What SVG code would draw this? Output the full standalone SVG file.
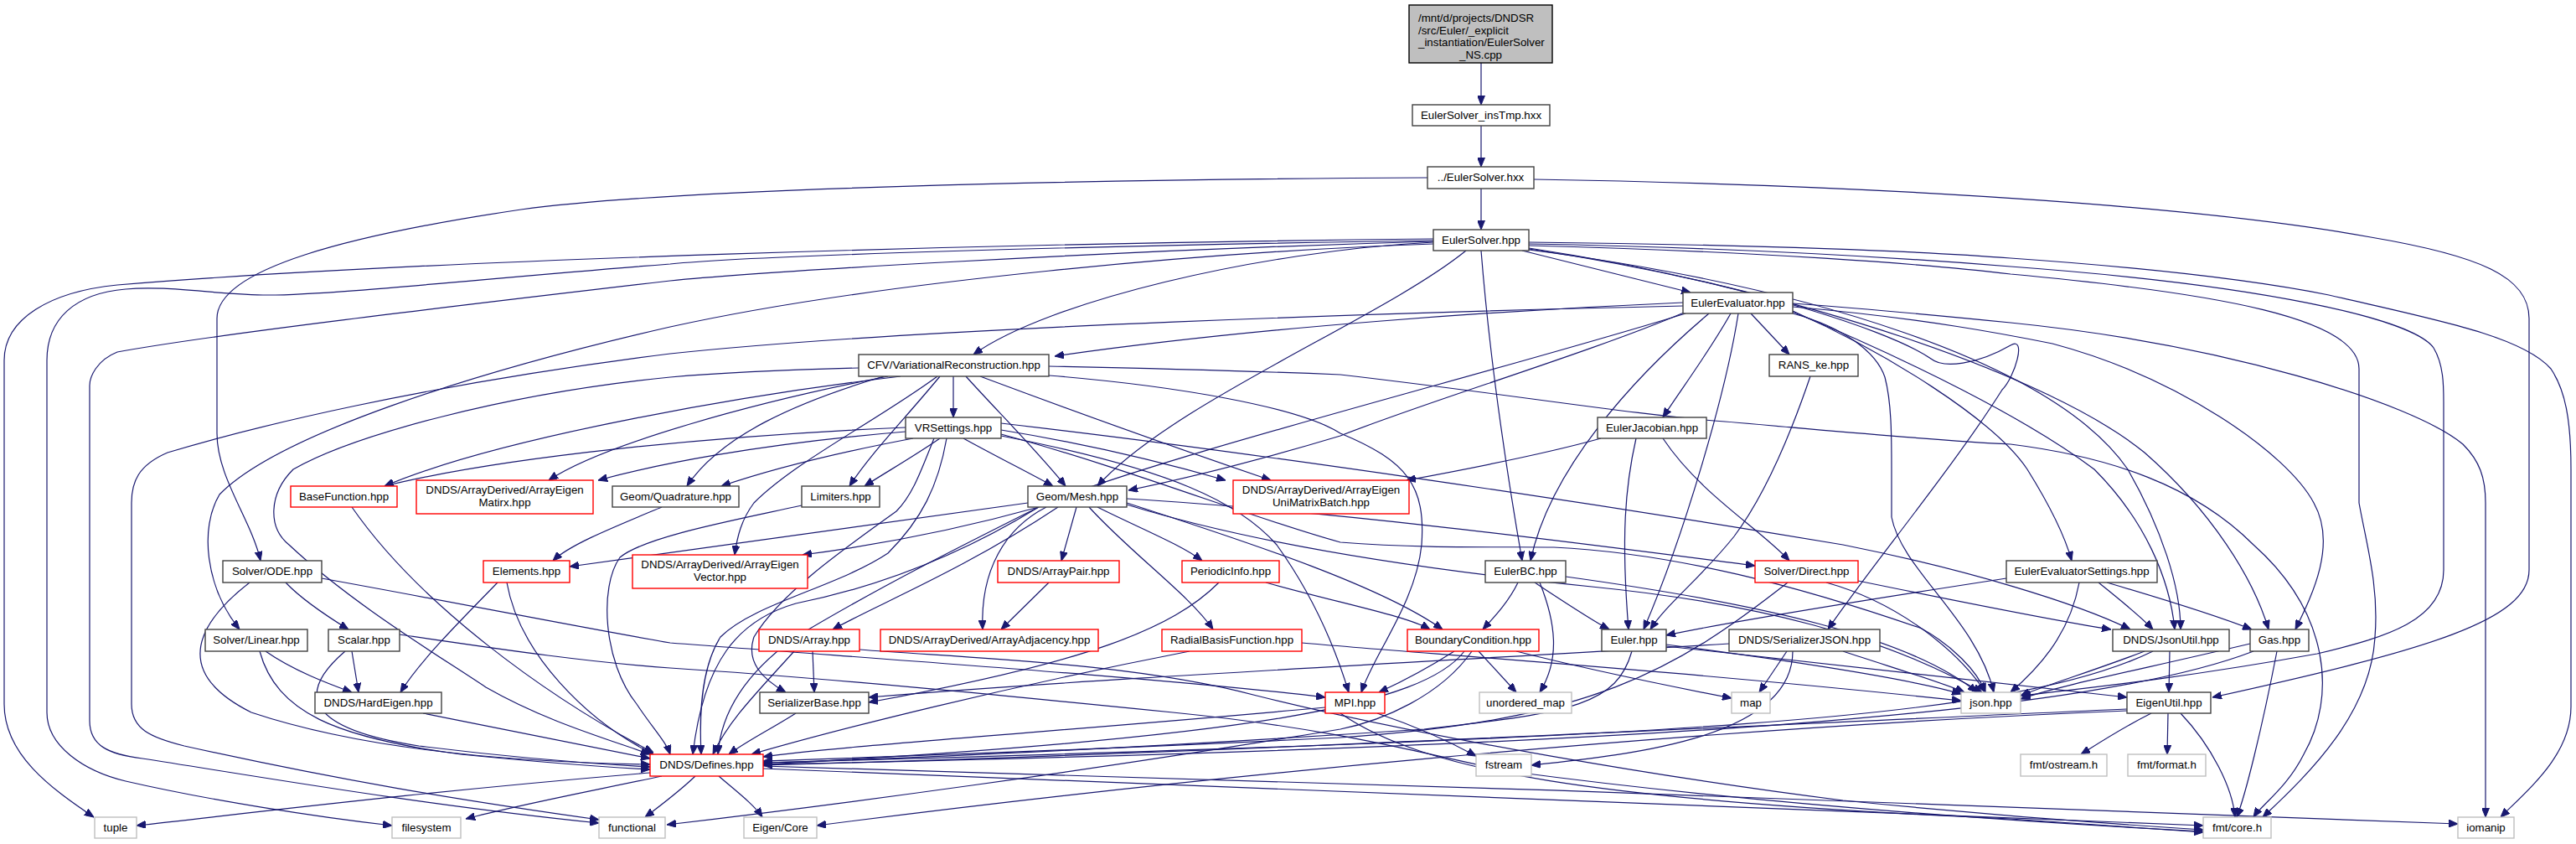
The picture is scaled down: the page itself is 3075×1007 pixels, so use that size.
<svg xmlns="http://www.w3.org/2000/svg" width="3075" height="1007" viewBox="0 0 3075 1007">
<defs>
<marker id="a" markerWidth="11" markerHeight="9" refX="11" refY="4.5" orient="auto" markerUnits="userSpaceOnUse"><path d="M0,0 L11,4.5 L0,9 z" fill="#191970" stroke="#191970" stroke-width="1"/></marker>
</defs>
<style>
.n rect{fill:#fff;stroke:#404040;stroke-width:1.4}
.r rect{stroke:#ff0000}
.x rect{stroke:#bfbfbf}
text{font-family:"Liberation Sans",Arial,sans-serif;font-size:13.3px;fill:#000;text-anchor:middle}
#edges path{fill:none;stroke:#191970;stroke-width:1.2;marker-end:url(#a)}
</style>
<rect width="3075" height="1007" fill="#fff"/>
<g id="edges">
<path d="M1768,75 L1768,125"/>
<path d="M1768,150 L1768,199"/>
<path d="M1768,225 L1768,274"/>
<path d="M1704,212 C1300,214 800,225 622,250 C420,280 259,320 259,380 L259,517 C259,570 300,620 311,669"/>
<path d="M1831,214 C2300,222 2650,250 2830,283 C2960,305 3019,330 3019,380 L3019,680 C3019,740 2900,775 2641,832"/>
<path d="M1817,299 L2018,349"/>
<path d="M1711,289 C1500,300 1250,360 1162,423"/>
<path d="M1750,299 C1650,380 1400,480 1310,580"/>
<path d="M1768,299 C1780,450 1805,600 1817,669"/>
<path d="M1711,291 C1450,300 1050,335 800,390 C560,445 330,520 262,590 C238,630 245,700 286,751"/>
<path d="M1711,285 C1200,290 500,310 140,340 C60,348 5,380 5,430 L5,840 C5,900 60,940 112,975"/>
<path d="M1711,287 C1300,293 900,305 800,315 C600,330 400,352 320,352 C260,352 200,340 150,345 C90,350 56,380 56,430 L56,850 C56,890 100,920 150,932 C250,955 380,975 468,985"/>
<path d="M1711,288 C1300,300 900,325 800,335 C500,370 250,400 140,420 C115,430 107,450 107,460 L107,860 C107,890 130,900 170,905 C300,925 500,960 715,982"/>
<path d="M1825,289 C2100,292 2300,300 2400,308 C2600,322 2720,340 2780,352 C2900,380 3010,400 3045,440 C3062,465 3069,500 3069,560 L3069,843 C3069,900 3020,940 2985,975"/>
<path d="M1825,291 C2100,296 2300,310 2400,318 C2700,340 2880,380 2905,415 C2917,435 2917,460 2917,480 L2917,680 C2917,740 2850,760 2766,780 C2600,810 2480,822 2413,830"/>
<path d="M1825,293 C2100,300 2300,315 2400,327 C2650,350 2816,380 2816,440 L2816,600 C2825,650 2840,700 2835,760 C2830,850 2760,920 2701,975"/>
<path d="M1825,296 C2050,330 2250,390 2305,428 C2320,440 2360,435 2400,412 C2420,400 2405,450 2390,465 C2330,560 2230,680 2182,751"/>
<path d="M1825,298 C2150,340 2450,430 2540,560 C2580,630 2603,700 2603,751"/>
<path d="M1825,297 C2150,345 2450,450 2560,540 C2640,610 2690,690 2708,751"/>
<path d="M2066,374 C2040,420 2010,460 1985,498"/>
<path d="M2090,374 L2136,423"/>
<path d="M2075,374 C2060,470 2010,640 1962,751"/>
<path d="M2009,361 C1800,370 1500,390 1259,425"/>
<path d="M2009,365 C1700,372 1100,390 800,422 C500,460 300,510 200,540 C165,555 157,575 157,600 L157,840 C157,870 180,880 220,890 C400,930 550,955 715,978"/>
<path d="M2010,373 C1900,420 1700,480 1600,520 C1500,550 1420,570 1347,585"/>
<path d="M2012,374 C1800,440 1400,540 1250,600 C1150,650 1050,700 950,760 C880,810 860,860 857,900"/>
<path d="M2040,374 C1950,450 1850,560 1827,669"/>
<path d="M2140,362 C2250,370 2350,380 2400,385 C2650,410 2880,480 2940,530 C2960,550 2967,570 2967,600 L2967,975"/>
<path d="M2140,366 C2300,380 2400,400 2450,410 C2600,450 2730,540 2762,600 C2790,650 2760,710 2740,751"/>
<path d="M2140,372 C2280,430 2420,500 2500,560 C2560,620 2590,690 2596,751"/>
<path d="M2140,371 C2250,420 2380,500 2420,560 C2445,600 2465,640 2473,669"/>
<path d="M2140,374 C2200,390 2240,420 2250,450 C2258,480 2258,520 2258,560 L2258,617 C2270,680 2360,740 2380,826"/>
<path d="M1138,449 L1138,498"/>
<path d="M1075,449 C900,470 600,520 459,580"/>
<path d="M1060,449 C900,480 720,530 655,573"/>
<path d="M1055,449 C950,480 860,520 820,580"/>
<path d="M1122,449 C1080,500 1040,540 1014,580"/>
<path d="M1153,449 C1190,490 1240,540 1272,580"/>
<path d="M1170,449 C1280,490 1420,540 1517,573"/>
<path d="M1119,449 C1050,500 950,550 900,600 C885,620 880,640 877,662"/>
<path d="M1025,439 C950,441 870,444 800,450 C600,470 420,520 350,560 C320,590 320,630 345,650 C420,720 520,780 580,820 C650,860 720,880 776,900"/>
<path d="M1252,448 C1400,460 1550,485 1600,517 C1680,550 1702,580 1697,650 C1690,720 1640,780 1625,826"/>
<path d="M1252,437 C1400,440 1500,443 1600,447 C1800,470 1950,495 2059,503 C2200,515 2300,525 2400,530 C2520,545 2620,580 2690,650 C2780,730 2790,830 2750,900 C2730,940 2700,960 2690,975"/>
<path d="M1081,510 C850,520 600,545 459,580"/>
<path d="M1081,515 C900,530 780,555 714,573"/>
<path d="M1090,523 C1000,540 920,560 861,580"/>
<path d="M1122,523 C1090,545 1055,565 1032,580"/>
<path d="M1150,523 C1190,545 1230,565 1257,580"/>
<path d="M1195,513 C1300,530 1400,555 1463,573"/>
<path d="M1130,523 C1120,580 1100,620 1060,660 C1000,700 900,720 860,760 C835,800 835,860 837,900"/>
<path d="M1115,523 C1100,560 1090,590 1070,610 C1000,660 930,710 900,760 C890,790 910,810 938,826"/>
<path d="M1195,505 C1500,540 1900,600 2200,650 C2350,680 2480,720 2543,751"/>
<path d="M1195,518 C1350,560 1500,620 1600,647 C1700,655 1800,652 1855,653 C2000,660 2150,700 2294,750 C2330,770 2360,800 2370,826"/>
<path d="M1195,520 C1400,560 1480,600 1524,650 C1560,700 1590,760 1610,826"/>
<path d="M341,695 C360,715 390,735 416,751"/>
<path d="M384,690 C550,720 700,750 800,767 C1100,790 1400,810 1582,832"/>
<path d="M298,695 C240,740 200,800 300,850 C450,900 650,910 776,912"/>
<path d="M317,777 C350,800 390,815 420,826"/>
<path d="M310,777 C330,850 400,880 550,900 C650,910 720,915 776,918"/>
<path d="M420,777 L428,826"/>
<path d="M412,777 C350,830 370,870 500,890 C620,905 720,912 776,915"/>
<path d="M477,757 C600,775 700,790 800,797 C1000,810 1200,830 1400,850 C1600,870 1700,900 1800,920 C2100,960 2400,980 2630,992"/>
<path d="M505,851 C600,870 700,890 776,905"/>
<path d="M594,695 C550,740 500,790 478,826"/>
<path d="M605,695 C620,780 700,860 780,900"/>
<path d="M420,605 C500,720 650,830 780,898"/>
<path d="M790,605 C730,630 680,650 660,669"/>
<path d="M957,603 C880,620 770,640 740,665 C715,700 720,790 760,840 C780,870 795,885 800,900"/>
<path d="M1227,600 C1000,630 800,660 680,676"/>
<path d="M1240,605 C1150,630 1050,650 958,662"/>
<path d="M1263,605 C1150,680 1050,720 994,751"/>
<path d="M1249,605 C1200,630 1170,680 1173,751"/>
<path d="M1285,605 L1267,669"/>
<path d="M1310,605 C1360,630 1410,650 1435,669"/>
<path d="M1300,605 C1350,660 1420,710 1448,751"/>
<path d="M1345,600 C1500,650 1650,700 1722,751"/>
<path d="M1345,595 C1600,610 1900,650 2095,675"/>
<path d="M1345,602 C1500,650 1700,680 1900,700 C2100,720 2250,760 2366,826"/>
<path d="M1240,605 C1150,660 1050,700 950,720 C880,740 840,790 827,900"/>
<path d="M1252,695 L1195,751"/>
<path d="M1455,695 C1400,750 1300,790 1037,838"/>
<path d="M1511,695 C1600,720 1680,735 1707,751"/>
<path d="M1420,777 C1200,820 1000,870 897,900"/>
<path d="M1554,767 C1700,780 2000,800 2341,836"/>
<path d="M970,777 L972,826"/>
<path d="M948,777 C900,830 870,860 851,900"/>
<path d="M1026,775 C1150,785 1350,790 1500,830 C1700,880 2000,930 2200,955 C2400,975 2550,985 2630,990"/>
<path d="M1736,777 C1700,800 1670,815 1646,826"/>
<path d="M1765,777 L1810,826"/>
<path d="M1810,777 C1900,800 2000,820 2067,833"/>
<path d="M1757,777 C1720,830 1650,860 1600,870 C1300,920 1000,960 796,984"/>
<path d="M1748,777 C1700,840 1500,880 911,912"/>
<path d="M1812,695 C1800,720 1780,740 1770,751"/>
<path d="M1832,695 C1870,720 1900,740 1921,751"/>
<path d="M1838,695 C1860,750 1860,790 1838,826"/>
<path d="M1869,688 C2100,720 2280,760 2360,826"/>
<path d="M1948,777 C1930,840 1880,850 1700,870 C1400,890 1100,905 911,910"/>
<path d="M1989,769 C2150,790 2280,810 2341,828"/>
<path d="M1989,771 C2200,795 2400,815 2539,832"/>
<path d="M2134,695 C2000,800 1900,860 1600,880 C1300,895 1000,905 911,908"/>
<path d="M2180,695 C2270,720 2340,780 2370,826"/>
<path d="M2218,693 C2350,720 2450,740 2520,751"/>
<path d="M2064,768 C1700,790 1300,810 1037,832"/>
<path d="M2133,777 L2100,826"/>
<path d="M2140,777 C2140,880 1950,900 1828,913"/>
<path d="M2200,777 C2270,800 2320,815 2345,826"/>
<path d="M2395,690 C2200,720 2050,745 1989,758"/>
<path d="M2505,695 C2530,715 2555,735 2570,751"/>
<path d="M2515,695 C2600,720 2660,740 2688,751"/>
<path d="M2482,695 C2470,760 2430,800 2400,826"/>
<path d="M2560,777 C2500,800 2450,815 2412,830"/>
<path d="M2590,777 L2589,826"/>
<path d="M2570,777 C2400,860 2000,880 911,910"/>
<path d="M2686,768 C2550,800 2450,820 2412,834"/>
<path d="M2718,777 C2700,870 2680,950 2670,975"/>
<path d="M2690,777 C2500,850 2000,890 911,912"/>
<path d="M2568,851 C2530,870 2500,890 2484,900"/>
<path d="M2588,851 L2587,900"/>
<path d="M2603,851 C2640,890 2665,940 2668,975"/>
<path d="M2539,848 C2000,870 1400,930 975,985"/>
<path d="M2539,846 C2000,870 1400,900 911,913"/>
<path d="M1644,851 C1700,870 1740,890 1762,902"/>
<path d="M1582,844 C1300,870 1000,890 911,903"/>
<path d="M1600,851 C1700,920 1900,955 2400,977 L2630,993"/>
<path d="M950,851 C920,870 890,885 870,900"/>
<path d="M776,922 C500,945 300,970 163,985"/>
<path d="M790,926 C700,945 620,960 556,977"/>
<path d="M830,926 C810,945 790,960 770,975"/>
<path d="M858,926 C880,945 900,960 910,975"/>
<path d="M911,917 C1400,940 2000,965 2630,985"/>
<path d="M911,914 C1500,930 2400,960 2934,983"/>
<path d="M1911,523 C1850,540 1750,560 1679,573"/>
<path d="M1985,523 C2030,590 2100,630 2136,669"/>
<path d="M1953,523 C1940,580 1935,640 1944,751"/>
<path d="M2161,449 C2130,540 2100,600 2070,640 C2030,690 1990,720 1970,751"/>
</g>
<g id="root"><rect x="1682" y="6" width="171" height="69" fill="#bfbfbf" stroke="#000" stroke-width="1.4"/><text x="1693" y="26" style="text-anchor:start">/mnt/d/projects/DNDSR</text><text x="1693" y="41" style="text-anchor:start">/src/Euler/_explicit</text><text x="1693" y="55" style="text-anchor:start">_instantiation/EulerSolver</text><text x="1767.5" y="70">_NS.cpp</text></g>
<g id="insTmp" class="n"><rect x="1686" y="125" width="164" height="25"/><text x="1768" y="142">EulerSolver_insTmp.hxx</text></g>
<g id="hxx" class="n"><rect x="1704" y="199" width="127" height="26"/><text x="1767.5" y="216">../EulerSolver.hxx</text></g>
<g id="ES" class="n"><rect x="1711" y="274" width="114" height="25"/><text x="1768" y="291">EulerSolver.hpp</text></g>
<g id="EE" class="n"><rect x="2009" y="349" width="131" height="25"/><text x="2074.5" y="366">EulerEvaluator.hpp</text></g>
<g id="CFV" class="n"><rect x="1025" y="423" width="227" height="26"/><text x="1138.5" y="440">CFV/VariationalReconstruction.hpp</text></g>
<g id="RANS" class="n"><rect x="2112" y="423" width="106" height="26"/><text x="2165" y="440">RANS_ke.hpp</text></g>
<g id="VRS" class="n"><rect x="1081" y="498" width="114" height="25"/><text x="1138" y="515">VRSettings.hpp</text></g>
<g id="EJ" class="n"><rect x="1907" y="498" width="130" height="25"/><text x="1972" y="515">EulerJacobian.hpp</text></g>
<g id="BF" class="n r"><rect x="347" y="580" width="127" height="25"/><text x="410.5" y="597">BaseFunction.hpp</text></g>
<g id="AEM" class="n r"><rect x="497" y="573" width="211" height="40"/><text x="602.5" y="589">DNDS/ArrayDerived/ArrayEigen</text><text x="602.5" y="604">Matirx.hpp</text></g>
<g id="GQ" class="n"><rect x="731" y="580" width="151" height="25"/><text x="806.5" y="597">Geom/Quadrature.hpp</text></g>
<g id="LIM" class="n"><rect x="957" y="580" width="93" height="25"/><text x="1003.5" y="597">Limiters.hpp</text></g>
<g id="MESH" class="n"><rect x="1227" y="580" width="118" height="25"/><text x="1286" y="597">Geom/Mesh.hpp</text></g>
<g id="AEUMB" class="n r"><rect x="1472" y="573" width="210" height="40"/><text x="1577" y="589">DNDS/ArrayDerived/ArrayEigen</text><text x="1577" y="604">UniMatrixBatch.hpp</text></g>
<g id="ODE" class="n"><rect x="266" y="669" width="118" height="26"/><text x="325" y="686">Solver/ODE.hpp</text></g>
<g id="ELEM" class="n r"><rect x="577" y="669" width="103" height="26"/><text x="628.5" y="686">Elements.hpp</text></g>
<g id="AEV" class="n r"><rect x="755" y="662" width="209" height="40"/><text x="859.5" y="678">DNDS/ArrayDerived/ArrayEigen</text><text x="859.5" y="693">Vector.hpp</text></g>
<g id="APAIR" class="n r"><rect x="1191" y="669" width="145" height="26"/><text x="1263.5" y="686">DNDS/ArrayPair.hpp</text></g>
<g id="PI" class="n r"><rect x="1411" y="669" width="116" height="26"/><text x="1469" y="686">PeriodicInfo.hpp</text></g>
<g id="EBC" class="n"><rect x="1773" y="669" width="96" height="26"/><text x="1821" y="686">EulerBC.hpp</text></g>
<g id="SD" class="n r"><rect x="2095" y="669" width="123" height="26"/><text x="2156.5" y="686">Solver/Direct.hpp</text></g>
<g id="EES" class="n"><rect x="2395" y="669" width="180" height="26"/><text x="2485" y="686">EulerEvaluatorSettings.hpp</text></g>
<g id="LIN" class="n"><rect x="245" y="751" width="122" height="26"/><text x="306" y="768">Solver/Linear.hpp</text></g>
<g id="SCAL" class="n"><rect x="392" y="751" width="85" height="26"/><text x="434.5" y="768">Scalar.hpp</text></g>
<g id="ARR" class="n r"><rect x="906" y="751" width="120" height="26"/><text x="966" y="768">DNDS/Array.hpp</text></g>
<g id="AADJ" class="n r"><rect x="1051" y="751" width="260" height="26"/><text x="1181" y="768">DNDS/ArrayDerived/ArrayAdjacency.hpp</text></g>
<g id="RBF" class="n r"><rect x="1387" y="751" width="167" height="26"/><text x="1470.5" y="768">RadialBasisFunction.hpp</text></g>
<g id="BC" class="n r"><rect x="1680" y="751" width="157" height="26"/><text x="1758.5" y="768">BoundaryCondition.hpp</text></g>
<g id="EULER" class="n"><rect x="1912" y="751" width="77" height="26"/><text x="1950.5" y="768">Euler.hpp</text></g>
<g id="SJSON" class="n"><rect x="2064" y="751" width="180" height="26"/><text x="2154" y="768">DNDS/SerializerJSON.hpp</text></g>
<g id="JU" class="n"><rect x="2522" y="751" width="139" height="26"/><text x="2591.5" y="768">DNDS/JsonUtil.hpp</text></g>
<g id="GAS" class="n"><rect x="2686" y="751" width="70" height="26"/><text x="2721" y="768">Gas.hpp</text></g>
<g id="HE" class="n"><rect x="376" y="826" width="151" height="25"/><text x="451.5" y="843">DNDS/HardEigen.hpp</text></g>
<g id="SB" class="n"><rect x="907" y="826" width="130" height="25"/><text x="972" y="843">SerializerBase.hpp</text></g>
<g id="MPI" class="n r"><rect x="1582" y="826" width="71" height="25"/><text x="1617.5" y="843">MPI.hpp</text></g>
<g id="UMAP" class="n x"><rect x="1766" y="826" width="110" height="25"/><text x="1821" y="843">unordered_map</text></g>
<g id="MAP" class="n x"><rect x="2067" y="826" width="46" height="25"/><text x="2090" y="843">map</text></g>
<g id="JSON" class="n x"><rect x="2341" y="826" width="71" height="25"/><text x="2376.5" y="843">json.hpp</text></g>
<g id="EU" class="n"><rect x="2539" y="826" width="100" height="25"/><text x="2589" y="843">EigenUtil.hpp</text></g>
<g id="DEF" class="n r"><rect x="776" y="900" width="135" height="26"/><text x="843.5" y="917">DNDS/Defines.hpp</text></g>
<g id="FSTREAM" class="n x"><rect x="1762" y="900" width="66" height="26"/><text x="1795" y="917">fstream</text></g>
<g id="FOST" class="n x"><rect x="2412" y="900" width="103" height="26"/><text x="2463.5" y="917">fmt/ostream.h</text></g>
<g id="FFMT" class="n x"><rect x="2540" y="900" width="93" height="26"/><text x="2586.5" y="917">fmt/format.h</text></g>
<g id="TUPLE" class="n x"><rect x="113" y="975" width="50" height="25"/><text x="138" y="992">tuple</text></g>
<g id="FS" class="n x"><rect x="468" y="975" width="82" height="25"/><text x="509" y="992">filesystem</text></g>
<g id="FUNC" class="n x"><rect x="715" y="975" width="79" height="25"/><text x="754.5" y="992">functional</text></g>
<g id="ECORE" class="n x"><rect x="888" y="975" width="87" height="25"/><text x="931.5" y="992">Eigen/Core</text></g>
<g id="FCORE" class="n x"><rect x="2630" y="975" width="81" height="25"/><text x="2670.5" y="992">fmt/core.h</text></g>
<g id="IOMANIP" class="n x"><rect x="2934" y="975" width="67" height="25"/><text x="2967.5" y="992">iomanip</text></g>
</svg>
